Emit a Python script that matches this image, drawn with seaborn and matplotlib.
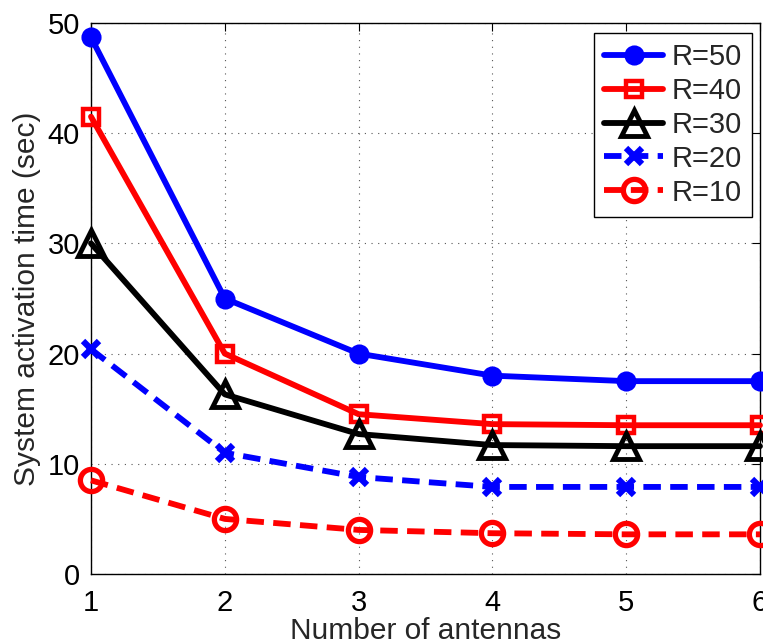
import numpy as np
import pandas as pd
import matplotlib
matplotlib.use("Agg")
import matplotlib.pyplot as plt
import seaborn as sns

antennas = [1, 2, 3, 4, 5, 6]
r50 = [48.7, 25.0, 20.0, 18.0, 17.5, 17.5]
r40 = [41.5, 20.0, 14.5, 13.6, 13.5, 13.5]
r30 = [30.0, 16.3, 12.7, 11.7, 11.6, 11.6]
r20 = [20.4, 11.0, 8.8, 7.9, 7.9, 7.9]
r10 = [8.5, 5.0, 4.0, 3.7, 3.6, 3.6]
series_labels = ["R=50", "R=40", "R=30", "R=20", "R=10"]
x_ticks = [1, 2, 3, 4, 5, 6]
y_ticks = [0, 10, 20, 30, 40, 50]

sns.set_theme(style="white")
plt.rcParams['font.family'] = ['Liberation Sans', 'DejaVu Sans']

fig = plt.figure(figsize=(7.63, 6.42), dpi=100)
ax = fig.add_axes([91/763, 1-574/642, (760-91)/763, (574-23)/642])

styles = [
    dict(color="#0000ff", marker="o", ls="-", ms=13, mfc="#0000ff", mew=1.5),
    dict(color="#ff0000", marker="s", ls="-", ms=12, mfc="none", mew=3.2),
    dict(color="#000000", marker="^", ls="-", ms=19, mfc="none", mew=3.5),
    dict(color="#0000ff", marker="x", ls=(0, (3, 1.6)), ms=11, mfc="none", mew=4.5),
    dict(color="#ff0000", marker="o", ls=(0, (3, 1.6)), ms=16, mfc="none", mew=3.8),
]
all_series = [r50, r40, r30, r20, r10]
for vals, lab, st in zip(all_series, series_labels, styles):
    sns.lineplot(x=antennas, y=vals, ax=ax, color=st["color"], marker=st["marker"],
                 linestyle=st["ls"], linewidth=4.2, markersize=st["ms"],
                 markerfacecolor=st["mfc"], markeredgecolor=st["color"],
                 markeredgewidth=st["mew"], label=lab, clip_on=False, zorder=3)

ax.set_xlim(1, 6)
ax.set_ylim(0, 50)
ax.set_xticks(x_ticks)
ax.set_yticks(y_ticks)
ax.grid(True, linestyle=(0, (1, 5)), color="#555555", linewidth=0.8)
ax.tick_params(direction="in", length=6, width=0.8, top=True, right=True,
               labelsize=21, colors="black", pad=8)
ax.tick_params(axis="x", pad=11)
for s in ax.spines.values():
    s.set_visible(True)
    s.set_color("black")
    s.set_linewidth(1.0)
ax.set_xlabel("Number of antennas", fontsize=21.5, labelpad=0)
ax.set_ylabel("System activation time (sec)", fontsize=21.5, labelpad=5)

leg = ax.legend(loc="upper right", bbox_to_anchor=((752-91)/669, (574-33)/551),
                fontsize=21, frameon=True, fancybox=False, edgecolor="black",
                framealpha=1, handlelength=2.0, handletextpad=0.3, borderpad=0.35,
                labelspacing=0.2, borderaxespad=0.0)
leg.get_frame().set_linewidth(1.0)

fig.savefig("out.png", dpi=100)
